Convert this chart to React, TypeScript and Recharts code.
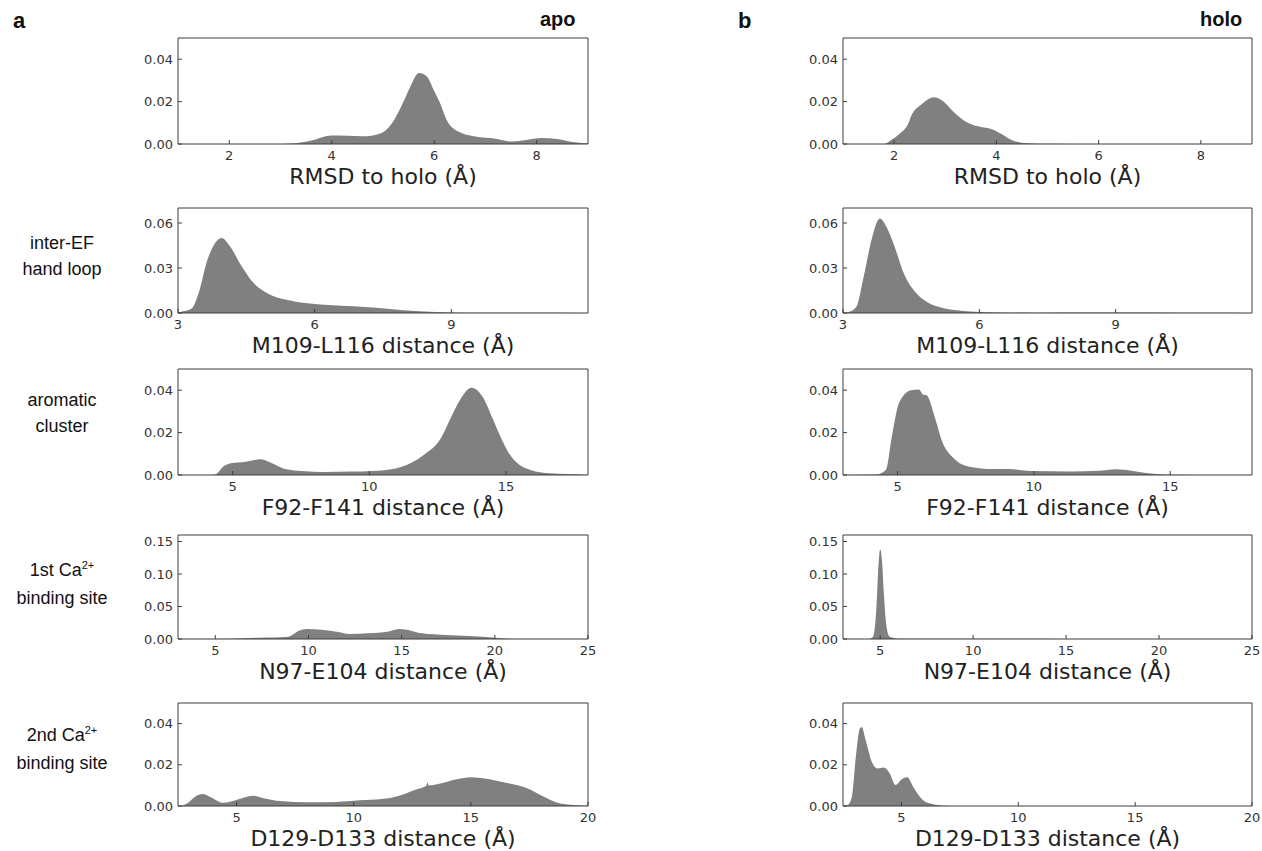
// Distance distributions, apo vs holo, five structural probes per column.

import { Area, AreaChart, Label, XAxis, YAxis } from "recharts";

const FILL = "#808080";
const FRAME = "#3c3c3c";
const TICK = { fill: "#333", fontSize: 13, fontFamily: "DejaVu Sans" };

// a: apo
const apoRmsdX = [1, 3.0, 3.25, 3.6, 4.0, 4.3, 4.6, 4.95, 5.15, 5.3, 5.4, 5.55, 5.7, 5.85, 6.0, 6.1, 6.25, 6.5, 6.8, 7.2, 7.5, 7.8, 8.1, 8.4, 8.75, 9];
const apoRmsdY = [0, 0, 0.0002, 0.0016, 0.004, 0.0039, 0.0036, 0.005, 0.009, 0.015, 0.02, 0.028, 0.0335, 0.032, 0.025, 0.02, 0.011, 0.0055, 0.0035, 0.0025, 0.0012, 0.0019, 0.0028, 0.0024, 0.0008, 0.0003];

const apoLoopX = [3, 3.04, 3.3, 3.46, 3.63, 3.8, 3.96, 4.13, 4.38, 4.63, 4.97, 5.38, 5.8, 6.2, 6.6, 7.1, 7.6, 8.3, 9.0, 9.6, 10.5, 12];
const apoLoopY = [0, 0.0005, 0.003, 0.014, 0.034, 0.046, 0.05, 0.045, 0.032, 0.021, 0.013, 0.0088, 0.0066, 0.0055, 0.0048, 0.004, 0.0029, 0.0011, 0.0004, 0.0002, 0.0001, 0];

const apoAromX = [3, 4.2, 4.38, 4.66, 4.93, 5.48, 6.03, 6.44, 6.85, 7.53, 8.36, 9.3, 10.1, 10.96, 11.5, 12.05, 12.6, 13.0, 13.3, 13.73, 14.14, 14.5, 14.8, 15.07, 15.5, 15.9, 16.6, 17.9, 18];
const apoAromY = [0, 0, 0.0003, 0.004, 0.0055, 0.0063, 0.0074, 0.0055, 0.0031, 0.0019, 0.0014, 0.0016, 0.0019, 0.0031, 0.0055, 0.01, 0.017, 0.0275, 0.035, 0.0412, 0.037, 0.027, 0.018, 0.011, 0.0047, 0.0024, 0.0008, 0.0001, 0];

const apoSite1X = [3, 5.77, 7.4, 8.9, 9.5, 9.9, 10.7, 11.6, 12.2, 13.2, 14.3, 14.9, 15.5, 16.1, 17.4, 18.6, 19.7, 20.7, 21.5, 25];
const apoSite1Y = [0, 0.0003, 0.002, 0.0036, 0.0128, 0.0153, 0.0143, 0.0107, 0.0077, 0.0087, 0.0117, 0.0153, 0.0128, 0.0087, 0.0061, 0.0046, 0.0026, 0.0005, 0, 0];

const apoSite2X = [2.5, 2.57, 2.9, 3.23, 3.56, 3.9, 4.4, 4.72, 5.2, 5.7, 6.2, 6.87, 8.0, 9.26, 10.25, 11.2, 11.9, 12.6, 13.1, 13.15, 13.2, 13.6, 14.4, 15.0, 15.8, 16.6, 17.4, 18.1, 18.7, 19.4, 20];
const apoSite2Y = [0, 0, 0.0013, 0.0045, 0.0058, 0.0042, 0.0016, 0.0021, 0.0037, 0.005, 0.0037, 0.0024, 0.0018, 0.002, 0.0028, 0.0034, 0.0049, 0.0078, 0.0098, 0.0115, 0.01, 0.0107, 0.013, 0.014, 0.013, 0.011, 0.0086, 0.0046, 0.0016, 0.0005, 0.0001];

// b: holo
const holoRmsdX = [1, 1.8, 1.95, 2.1, 2.3, 2.32, 2.55, 2.78, 2.94, 3.17, 3.48, 3.7, 3.9, 4.1, 4.3, 4.6, 5.1, 6, 9];
const holoRmsdY = [0, 0, 0.002, 0.0047, 0.011, 0.0125, 0.019, 0.022, 0.0205, 0.015, 0.0095, 0.008, 0.0071, 0.0047, 0.0019, 0.0004, 0.0001, 0, 0];

const holoLoopX = [3, 3.11, 3.29, 3.46, 3.63, 3.81, 3.98, 4.15, 4.33, 4.59, 4.85, 5.2, 5.6, 6.0, 7.2, 8.5, 9.8, 11, 12];
const holoLoopY = [0, 0.0005, 0.004, 0.025, 0.049, 0.063, 0.056, 0.043, 0.027, 0.014, 0.0073, 0.0033, 0.0015, 0.0007, 0.0002, 0.0003, 0.0004, 0.0001, 0];

const holoAromX = [3, 4.2, 4.57, 4.79, 5.07, 5.5, 5.79, 5.93, 6.07, 6.36, 6.64, 7.07, 7.64, 8.5, 9.07, 9.93, 11.36, 12.36, 13.0, 13.64, 14.2, 14.8, 16, 18];
const holoAromY = [0, 0.0002, 0.0024, 0.018, 0.0345, 0.04, 0.0403, 0.038, 0.0376, 0.0275, 0.0157, 0.0078, 0.0039, 0.0028, 0.0028, 0.0019, 0.0017, 0.002, 0.0027, 0.0019, 0.0008, 0.0002, 0, 0];

const holoSite1X = [3, 4.4, 4.6, 4.7, 4.8, 4.9, 5.0, 5.1, 5.2, 5.3, 5.4, 5.5, 5.7, 6.0, 10, 14, 15, 25];
const holoSite1Y = [0, 0, 0.003, 0.015, 0.05, 0.11, 0.138, 0.12, 0.07, 0.03, 0.01, 0.004, 0.002, 0.0005, 0.0004, 0.0004, 0, 0];

const holoSite2X = [2.5, 2.7, 2.88, 3.05, 3.22, 3.3, 3.47, 3.73, 3.98, 4.24, 4.5, 4.75, 5.0, 5.25, 5.5, 5.85, 6.19, 6.7, 7.5, 20];
const holoSite2Y = [0, 0.0005, 0.0045, 0.024, 0.0376, 0.0384, 0.032, 0.0215, 0.0182, 0.0187, 0.0158, 0.0102, 0.0129, 0.0139, 0.0094, 0.0037, 0.0013, 0.0003, 0, 0];

// axes per row
const rowXLabels = ["RMSD to holo (Å)", "M109-L116 distance (Å)", "F92-F141 distance (Å)", "N97-E104 distance (Å)", "D129-D133 distance (Å)"];
const rowXDomains: [number, number][] = [[1, 9], [3, 12], [3, 18], [3, 25], [2.5, 20]];
const rowXTicks = [[2, 4, 6, 8], [3, 6, 9], [5, 10, 15], [5, 10, 15, 20, 25], [5, 10, 15, 20]];
const rowYMax = [0.05, 0.07, 0.05, 0.16, 0.05];
const rowYTicks = [[0, 0.02, 0.04], [0, 0.03, 0.06], [0, 0.02, 0.04], [0, 0.05, 0.1, 0.15], [0, 0.02, 0.04]];

// row names on the left of column a
const sideLabels: [string, string, string][] = [
  ["", "", ""],
  ["inter-EF", "", "hand loop"],
  ["aromatic", "", "cluster"],
  ["1st Ca", "2+", "binding site"],
  ["2nd Ca", "2+", "binding site"],
];

const ROWS = [
  { top: 38, h: 106, side: 0 },
  { top: 208, h: 105, side: 230 },
  { top: 369, h: 106, side: 387 },
  { top: 535, h: 104, side: 557 },
  { top: 703, h: 103, side: 722 },
];
const COLS = [
  { left: 178, w: 410 },
  { left: 843, w: 409 },
];

const YW = 45;
const XH = 52;
const MT = 7;
const MR = 14;

const zip = (xs: number[], ys: number[]) => xs.map((x, i) => ({ x, y: ys[i] }));

const apo = [zip(apoRmsdX, apoRmsdY), zip(apoLoopX, apoLoopY), zip(apoAromX, apoAromY), zip(apoSite1X, apoSite1Y), zip(apoSite2X, apoSite2Y)];
const holo = [zip(holoRmsdX, holoRmsdY), zip(holoLoopX, holoLoopY), zip(holoAromX, holoAromY), zip(holoSite1X, holoSite1Y), zip(holoSite2X, holoSite2Y)];

function Panel({ data, row, col }: { data: { x: number; y: number }[]; row: number; col: number }) {
  const r = ROWS[row];
  const c = COLS[col];
  const xDom = rowXDomains[row];
  const yDom = [0, rowYMax[row]];
  return (
    <div style={{ position: "absolute", left: c.left - YW, top: r.top - MT - 1 }}>
      <AreaChart width={c.w + YW + MR + 1} height={r.h + MT + 1 + XH} data={data} margin={{ top: MT, right: MR, bottom: 0, left: 0 }}>
        <XAxis
          dataKey="x"
          type="number"
          domain={xDom}
          ticks={rowXTicks[row]}
          allowDataOverflow
          interval={0}
          height={XH}
          tickSize={-4}
          tickMargin={11}
          tick={TICK}
          stroke={FRAME}
        >
          <Label value={rowXLabels[row]} position="insideBottom" offset={12} style={{ fontSize: 22, fontFamily: "DejaVu Sans", fill: "#222" }} />
        </XAxis>
        {/* top and right frame with inward ticks */}
        <XAxis xAxisId="top" dataKey="x" orientation="top" type="number" domain={xDom} ticks={rowXTicks[row]} allowDataOverflow interval={0} height={1} tickSize={-4} tick={false} stroke={FRAME} />
        <YAxis
          type="number"
          domain={yDom}
          ticks={rowYTicks[row]}
          allowDataOverflow
          interval={0}
          width={YW}
          tickSize={-4}
          tickMargin={9}
          tick={TICK}
          tickFormatter={(v: number) => v.toFixed(2)}
          stroke={FRAME}
        />
        <YAxis yAxisId="right" orientation="right" type="number" domain={yDom} ticks={rowYTicks[row]} allowDataOverflow interval={0} width={1} tickSize={-4} tick={false} stroke={FRAME} />
        <Area type="monotone" dataKey="y" stroke="none" fill={FILL} fillOpacity={1} baseValue={0} isAnimationActive={false} dot={false} activeDot={false} />
        <Area xAxisId="top" yAxisId="right" type="monotone" dataKey="y" stroke="none" fill="none" isAnimationActive={false} dot={false} activeDot={false} />
      </AreaChart>
    </div>
  );
}

const TEXT = { position: "absolute" as const, fontFamily: "Liberation Sans, Arial, sans-serif", color: "#111" };

export default function App() {
  return (
    <div style={{ position: "absolute", left: 0, top: 0, width: 1262, height: 851, background: "#fff", overflow: "hidden" }}>
      <div style={{ ...TEXT, left: 13, top: 8, fontSize: 22, fontWeight: "bold" }}>a</div>
      <div style={{ ...TEXT, left: 738, top: 8, fontSize: 22, fontWeight: "bold" }}>b</div>
      <div style={{ ...TEXT, left: 540, top: 8, fontSize: 20, fontWeight: "bold" }}>apo</div>
      <div style={{ ...TEXT, left: 1200, top: 8, fontSize: 20, fontWeight: "bold" }}>holo</div>
      {sideLabels.map((s, i) =>
        s[0] ? (
          <div key={i} style={{ ...TEXT, left: 0, width: 124, top: ROWS[i].side, fontSize: 18, lineHeight: "26px", textAlign: "center" }}>
            {s[0]}
            {s[1] && <span style={{ fontSize: 11, position: "relative", top: -7 }}>{s[1]}</span>}
            <br />
            {s[2]}
          </div>
        ) : null
      )}
      {apo.map((d, i) => (
        <Panel key={"a" + i} data={d} row={i} col={0} />
      ))}
      {holo.map((d, i) => (
        <Panel key={"b" + i} data={d} row={i} col={1} />
      ))}
    </div>
  );
}
